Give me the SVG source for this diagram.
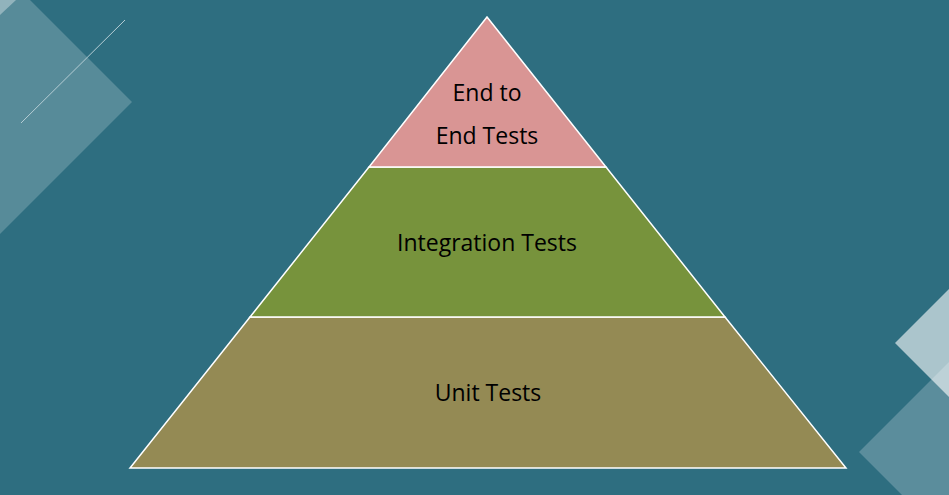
<svg xmlns="http://www.w3.org/2000/svg" width="949" height="495" viewBox="0 0 949 495">
<style>
.t{font-family:"Open Sans","Liberation Sans",sans-serif;font-size:23px;fill:#000;text-anchor:middle}
.tier{stroke:#fff;stroke-width:1.5}
</style>
<rect width="949" height="495" fill="#2E6E80"/>
<g id="decor">
<polygon points="30,0 132,102 0,234 0,0" fill="#FFFFFF" fill-opacity="0.2"/>
<polygon points="0,0 16,0 0,15" fill="#FFFFFF" fill-opacity="0.35"/>
<line x1="21" y1="123" x2="125" y2="20" stroke="#B5CDD4" stroke-width="1"/>
<polygon points="895,343 949,289 949,397" fill="#FFFFFF" fill-opacity="0.6"/>
<polygon points="859,452 949,362 949,495 902,495" fill="#FFFFFF" fill-opacity="0.22"/>
</g>
<g id="unit"><polygon class="tier" points="250,317 725,317 846,468 130,468" fill="#948A54"/><text class="t" x="488" y="401">Unit Tests</text></g>
<g id="integration"><polygon class="tier" points="369,167 606,167 725,317 250,317" fill="#77933C"/><text class="t" x="487" y="251">Integration Tests</text></g>
<g id="e2e"><polygon class="tier" points="487,17 606,167 369,167" fill="#D99594"/><text class="t" x="487" y="101">End to</text><text class="t" x="487" y="144">End Tests</text></g>
<g id="connectors"/>
</svg>
